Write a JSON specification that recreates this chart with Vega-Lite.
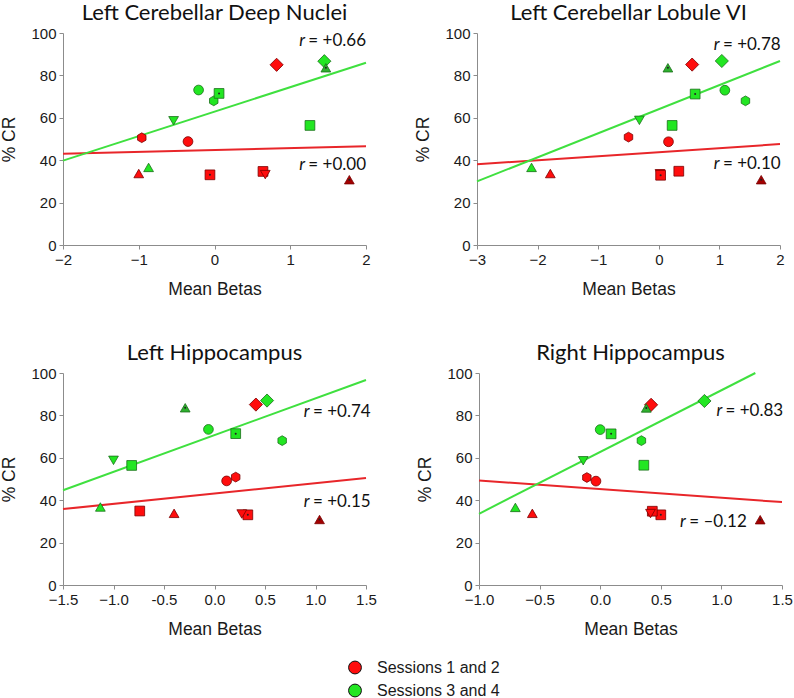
{
  "$schema": "https://vega.github.io/schema/vega-lite/v6.json",
  "background": "white",
  "padding": {"left": 0, "top": 2, "right": 0, "bottom": 0},
  "config": {
    "view": {"stroke": null},
    "axis": {"labelFont": "Liberation Sans", "labelFontSize": 15, "labelColor": "#1a1a1a", "titleFont": "Liberation Sans", "titleFontSize": 17.5, "titleFontWeight": "normal", "titleColor": "#1a1a1a", "domainColor": "#8c8c8c", "tickColor": "#8c8c8c", "tickSize": 4, "labelPadding": 3, "grid": false},
    "axisY": {"titlePadding": 12},
    "axisX": {"titlePadding": 13, "labelFlush": false},
    "title": {"font": "Lato", "fontSize": 22, "fontWeight": "normal", "color": "#111111", "frame": "group", "anchor": "middle", "offset": 1}
  },
  "datasets": {
    "pts": [
      {"panel": 1, "session": "Sessions 1 and 2", "subject": "A", "beta": -0.96, "cr": 50.6},
      {"panel": 1, "session": "Sessions 1 and 2", "subject": "B", "beta": -0.35, "cr": 48.8},
      {"panel": 1, "session": "Sessions 1 and 2", "subject": "C", "beta": -1.0, "cr": 33.7},
      {"panel": 1, "session": "Sessions 1 and 2", "subject": "D", "beta": -0.06, "cr": 33.1},
      {"panel": 1, "session": "Sessions 1 and 2", "subject": "E", "beta": 0.64, "cr": 34.7},
      {"panel": 1, "session": "Sessions 1 and 2", "subject": "F", "beta": 0.67, "cr": 33.2},
      {"panel": 1, "session": "Sessions 1 and 2", "subject": "G", "beta": 0.82, "cr": 85.0},
      {"panel": 1, "session": "Sessions 1 and 2", "subject": "H", "beta": 1.78, "cr": 30.8},
      {"panel": 1, "session": "Sessions 3 and 4", "subject": "A", "beta": -0.01, "cr": 68.0},
      {"panel": 1, "session": "Sessions 3 and 4", "subject": "B", "beta": -0.21, "cr": 73.1},
      {"panel": 1, "session": "Sessions 3 and 4", "subject": "C", "beta": -0.87, "cr": 36.6},
      {"panel": 1, "session": "Sessions 3 and 4", "subject": "D", "beta": 0.06, "cr": 71.5},
      {"panel": 1, "session": "Sessions 3 and 4", "subject": "E", "beta": 1.26, "cr": 56.4},
      {"panel": 1, "session": "Sessions 3 and 4", "subject": "F", "beta": -0.54, "cr": 58.6},
      {"panel": 1, "session": "Sessions 3 and 4", "subject": "G", "beta": 1.45, "cr": 86.7},
      {"panel": 1, "session": "Sessions 3 and 4", "subject": "H", "beta": 1.47, "cr": 83.6},
      {"panel": 2, "session": "Sessions 1 and 2", "subject": "A", "beta": -0.5, "cr": 50.9},
      {"panel": 2, "session": "Sessions 1 and 2", "subject": "B", "beta": 0.16, "cr": 48.7},
      {"panel": 2, "session": "Sessions 1 and 2", "subject": "C", "beta": -1.79, "cr": 33.7},
      {"panel": 2, "session": "Sessions 1 and 2", "subject": "F", "beta": 0.02, "cr": 33.6},
      {"panel": 2, "session": "Sessions 1 and 2", "subject": "D", "beta": 0.03, "cr": 32.9},
      {"panel": 2, "session": "Sessions 1 and 2", "subject": "E", "beta": 0.33, "cr": 34.8},
      {"panel": 2, "session": "Sessions 1 and 2", "subject": "G", "beta": 0.55, "cr": 85.1},
      {"panel": 2, "session": "Sessions 1 and 2", "subject": "H", "beta": 1.69, "cr": 30.8},
      {"panel": 2, "session": "Sessions 3 and 4", "subject": "A", "beta": 1.43, "cr": 68.0},
      {"panel": 2, "session": "Sessions 3 and 4", "subject": "B", "beta": 1.09, "cr": 73.0},
      {"panel": 2, "session": "Sessions 3 and 4", "subject": "C", "beta": -2.1, "cr": 36.6},
      {"panel": 2, "session": "Sessions 3 and 4", "subject": "D", "beta": 0.6, "cr": 71.2},
      {"panel": 2, "session": "Sessions 3 and 4", "subject": "E", "beta": 0.22, "cr": 56.4},
      {"panel": 2, "session": "Sessions 3 and 4", "subject": "F", "beta": -0.32, "cr": 58.8},
      {"panel": 2, "session": "Sessions 3 and 4", "subject": "G", "beta": 1.04, "cr": 86.8},
      {"panel": 2, "session": "Sessions 3 and 4", "subject": "H", "beta": 0.15, "cr": 83.6},
      {"panel": 3, "session": "Sessions 1 and 2", "subject": "A", "beta": 0.21, "cr": 50.9},
      {"panel": 3, "session": "Sessions 1 and 2", "subject": "B", "beta": 0.12, "cr": 49.1},
      {"panel": 3, "session": "Sessions 1 and 2", "subject": "C", "beta": -0.4, "cr": 33.8},
      {"panel": 3, "session": "Sessions 1 and 2", "subject": "D", "beta": 0.33, "cr": 33.1},
      {"panel": 3, "session": "Sessions 1 and 2", "subject": "E", "beta": -0.74, "cr": 34.9},
      {"panel": 3, "session": "Sessions 1 and 2", "subject": "F", "beta": 0.27, "cr": 33.5},
      {"panel": 3, "session": "Sessions 1 and 2", "subject": "G", "beta": 0.41, "cr": 85.1},
      {"panel": 3, "session": "Sessions 1 and 2", "subject": "H", "beta": 1.04, "cr": 30.9},
      {"panel": 3, "session": "Sessions 3 and 4", "subject": "A", "beta": 0.67, "cr": 68.1},
      {"panel": 3, "session": "Sessions 3 and 4", "subject": "B", "beta": -0.06, "cr": 73.4},
      {"panel": 3, "session": "Sessions 3 and 4", "subject": "C", "beta": -1.13, "cr": 36.8},
      {"panel": 3, "session": "Sessions 3 and 4", "subject": "D", "beta": 0.21, "cr": 71.4},
      {"panel": 3, "session": "Sessions 3 and 4", "subject": "E", "beta": -0.82, "cr": 56.4},
      {"panel": 3, "session": "Sessions 3 and 4", "subject": "F", "beta": -1.0, "cr": 58.8},
      {"panel": 3, "session": "Sessions 3 and 4", "subject": "G", "beta": 0.52, "cr": 87.0},
      {"panel": 3, "session": "Sessions 3 and 4", "subject": "H", "beta": -0.29, "cr": 83.6},
      {"panel": 4, "session": "Sessions 1 and 2", "subject": "A", "beta": -0.11, "cr": 50.7},
      {"panel": 4, "session": "Sessions 1 and 2", "subject": "B", "beta": -0.035, "cr": 49.0},
      {"panel": 4, "session": "Sessions 1 and 2", "subject": "C", "beta": -0.56, "cr": 33.8},
      {"panel": 4, "session": "Sessions 1 and 2", "subject": "D", "beta": 0.5, "cr": 33.1},
      {"panel": 4, "session": "Sessions 1 and 2", "subject": "E", "beta": 0.43, "cr": 34.8},
      {"panel": 4, "session": "Sessions 1 and 2", "subject": "F", "beta": 0.415, "cr": 33.7},
      {"panel": 4, "session": "Sessions 1 and 2", "subject": "G", "beta": 0.42, "cr": 85.0},
      {"panel": 4, "session": "Sessions 1 and 2", "subject": "H", "beta": 1.32, "cr": 30.8},
      {"panel": 4, "session": "Sessions 3 and 4", "subject": "A", "beta": 0.34, "cr": 68.1},
      {"panel": 4, "session": "Sessions 3 and 4", "subject": "B", "beta": 0.0, "cr": 73.3},
      {"panel": 4, "session": "Sessions 3 and 4", "subject": "C", "beta": -0.7, "cr": 36.6},
      {"panel": 4, "session": "Sessions 3 and 4", "subject": "D", "beta": 0.09, "cr": 71.3},
      {"panel": 4, "session": "Sessions 3 and 4", "subject": "E", "beta": 0.36, "cr": 56.5},
      {"panel": 4, "session": "Sessions 3 and 4", "subject": "F", "beta": -0.14, "cr": 58.6},
      {"panel": 4, "session": "Sessions 3 and 4", "subject": "G", "beta": 0.86, "cr": 86.8},
      {"panel": 4, "session": "Sessions 3 and 4", "subject": "H", "beta": 0.38, "cr": 83.5}
    ],
    "fits": [
      {"panel": 1, "session": "Sessions 1 and 2", "beta": -2, "cr": 43.0},
      {"panel": 1, "session": "Sessions 1 and 2", "beta": 2, "cr": 46.6},
      {"panel": 1, "session": "Sessions 3 and 4", "beta": -2, "cr": 39.8},
      {"panel": 1, "session": "Sessions 3 and 4", "beta": 2, "cr": 86.0},
      {"panel": 2, "session": "Sessions 1 and 2", "beta": -3, "cr": 38.1},
      {"panel": 2, "session": "Sessions 1 and 2", "beta": 2, "cr": 47.6},
      {"panel": 2, "session": "Sessions 3 and 4", "beta": -3, "cr": 30.0},
      {"panel": 2, "session": "Sessions 3 and 4", "beta": 2, "cr": 86.8},
      {"panel": 3, "session": "Sessions 1 and 2", "beta": -1.5, "cr": 35.8},
      {"panel": 3, "session": "Sessions 1 and 2", "beta": 1.5, "cr": 50.5},
      {"panel": 3, "session": "Sessions 3 and 4", "beta": -1.5, "cr": 44.7},
      {"panel": 3, "session": "Sessions 3 and 4", "beta": 1.5, "cr": 96.7},
      {"panel": 4, "session": "Sessions 1 and 2", "beta": -1, "cr": 49.3},
      {"panel": 4, "session": "Sessions 1 and 2", "beta": 1.5, "cr": 39.1},
      {"panel": 4, "session": "Sessions 3 and 4", "beta": -1, "cr": 33.6},
      {"panel": 4, "session": "Sessions 3 and 4", "beta": 1.28, "cr": 100}
    ],
    "rlabels": [
      {"panel": 1, "beta": 2.0, "cr": 96.4, "txt": "= +0.66"},
      {"panel": 1, "beta": 2.0, "cr": 37.8, "txt": "= +0.00"},
      {"panel": 2, "beta": 2.01, "cr": 94.2, "txt": "= +0.78"},
      {"panel": 2, "beta": 2.01, "cr": 38.0, "txt": "= +0.10"},
      {"panel": 3, "beta": 1.546, "cr": 81.5, "txt": "= +0.74"},
      {"panel": 3, "beta": 1.546, "cr": 39.2, "txt": "= +0.15"},
      {"panel": 4, "beta": 1.51, "cr": 82.3, "txt": "= +0.83"},
      {"panel": 4, "beta": 1.21, "cr": 29.5, "txt": "= –0.12"}
    ],
    "legendrows": [
      {"session": "Sessions 1 and 2"},
      {"session": "Sessions 3 and 4"}
    ]
  },
  "spacing": 18,
  "vconcat": [
    {
      "spacing": 44,
      "vconcat": [
        {
          "spacing": 43,
          "hconcat": [
            {
              "width": 303, "height": 212,
              "title": "Left Cerebellar Deep Nuclei",
              "encoding": {
                "x": {"field": "beta", "type": "quantitative", "scale": {"domain": [-2, 2], "nice": false, "zero": false}, "axis": {"values": [-2, -1, 0, 1, 2], "title": "Mean Betas"}},
                "y": {"field": "cr", "type": "quantitative", "scale": {"domain": [0, 100], "nice": false}, "axis": {"values": [0, 20, 40, 60, 80, 100], "title": "% CR"}}
              },
              "layer": [
                {"data": {"name": "fits"}, "transform": [{"filter": "datum.panel == 1"}], "mark": {"type": "line", "strokeWidth": 2}, "encoding": {"color": {"field": "session", "type": "nominal", "scale": {"domain": ["Sessions 1 and 2", "Sessions 3 and 4"], "range": ["#e8262a", "#3fe03f"]}, "legend": null}}},
                {"data": {"name": "pts"}, "transform": [{"filter": "datum.panel == 1"}], "mark": {"type": "point", "filled": true, "size": 95, "strokeWidth": 0.8, "opacity": 1},
                  "encoding": {
                    "shape": {"field": "subject", "type": "nominal", "scale": {"domain": ["A", "B", "C", "D", "E", "F", "G", "H"], "range": ["M0,-1L0.866,-0.5L0.866,0.5L0,1L-0.866,0.5L-0.866,-0.5Z", "circle", "triangle-up", "square", "square", "triangle-down", "M0,-1.35L1.35,0L0,1.35L-1.35,0Z", "triangle-up"]}, "legend": null},
                    "fill": {"field": "session", "type": "nominal", "scale": {"domain": ["Sessions 1 and 2", "Sessions 3 and 4"], "range": ["#ff0d0d", "#22e622"]}, "legend": null, "condition": [{"test": "datum.subject == 'H' && datum.session == 'Sessions 1 and 2'", "value": "#a30000"}, {"test": "datum.subject == 'H'", "value": "#2eb02e"}]},
                    "stroke": {"field": "session", "type": "nominal", "scale": {"domain": ["Sessions 1 and 2", "Sessions 3 and 4"], "range": ["#7a0000", "#1b6e1b"]}, "legend": null}
                  }},
                {"data": {"name": "pts"}, "transform": [{"filter": "datum.panel == 1 && (datum.subject == 'D' || datum.subject == 'H')"}], "mark": {"type": "point", "filled": true, "size": 4, "color": "#222222", "opacity": 1}},
                {"data": {"name": "rlabels"}, "transform": [{"filter": "datum.panel == 1"}], "mark": {"type": "text", "align": "right", "baseline": "middle", "font": "Lato", "fontSize": 17, "color": "#111111"}, "encoding": {"text": {"field": "txt"}}},
                {"data": {"name": "rlabels"}, "transform": [{"filter": "datum.panel == 1"}], "mark": {"type": "text", "align": "right", "baseline": "middle", "font": "Lato", "fontSize": 17, "fontStyle": "italic", "color": "#111111", "dx": -61}, "encoding": {"text": {"value": "r"}}}
              ]
            },
            {
              "width": 303, "height": 212,
              "title": "Left Cerebellar Lobule VI",
              "encoding": {
                "x": {"field": "beta", "type": "quantitative", "scale": {"domain": [-3, 2], "nice": false, "zero": false}, "axis": {"values": [-3, -2, -1, 0, 1, 2], "title": "Mean Betas"}},
                "y": {"field": "cr", "type": "quantitative", "scale": {"domain": [0, 100], "nice": false}, "axis": {"values": [0, 20, 40, 60, 80, 100], "title": "% CR"}}
              },
              "layer": [
                {"data": {"name": "fits"}, "transform": [{"filter": "datum.panel == 2"}], "mark": {"type": "line", "strokeWidth": 2}, "encoding": {"color": {"field": "session", "type": "nominal", "scale": {"domain": ["Sessions 1 and 2", "Sessions 3 and 4"], "range": ["#e8262a", "#3fe03f"]}, "legend": null}}},
                {"data": {"name": "pts"}, "transform": [{"filter": "datum.panel == 2"}], "mark": {"type": "point", "filled": true, "size": 95, "strokeWidth": 0.8, "opacity": 1},
                  "encoding": {
                    "shape": {"field": "subject", "type": "nominal", "scale": {"domain": ["A", "B", "C", "D", "E", "F", "G", "H"], "range": ["M0,-1L0.866,-0.5L0.866,0.5L0,1L-0.866,0.5L-0.866,-0.5Z", "circle", "triangle-up", "square", "square", "triangle-down", "M0,-1.35L1.35,0L0,1.35L-1.35,0Z", "triangle-up"]}, "legend": null},
                    "fill": {"field": "session", "type": "nominal", "scale": {"domain": ["Sessions 1 and 2", "Sessions 3 and 4"], "range": ["#ff0d0d", "#22e622"]}, "legend": null, "condition": [{"test": "datum.subject == 'H' && datum.session == 'Sessions 1 and 2'", "value": "#a30000"}, {"test": "datum.subject == 'H'", "value": "#2eb02e"}]},
                    "stroke": {"field": "session", "type": "nominal", "scale": {"domain": ["Sessions 1 and 2", "Sessions 3 and 4"], "range": ["#7a0000", "#1b6e1b"]}, "legend": null}
                  }},
                {"data": {"name": "pts"}, "transform": [{"filter": "datum.panel == 2 && (datum.subject == 'D' || datum.subject == 'H')"}], "mark": {"type": "point", "filled": true, "size": 4, "color": "#222222", "opacity": 1}},
                {"data": {"name": "rlabels"}, "transform": [{"filter": "datum.panel == 2"}], "mark": {"type": "text", "align": "right", "baseline": "middle", "font": "Lato", "fontSize": 17, "color": "#111111"}, "encoding": {"text": {"field": "txt"}}},
                {"data": {"name": "rlabels"}, "transform": [{"filter": "datum.panel == 2"}], "mark": {"type": "text", "align": "right", "baseline": "middle", "font": "Lato", "fontSize": 17, "fontStyle": "italic", "color": "#111111", "dx": -61}, "encoding": {"text": {"value": "r"}}}
              ]
            }
          ]
        },
        {
          "spacing": 39,
          "hconcat": [
            {
              "width": 303, "height": 212,
              "title": "Left Hippocampus",
              "encoding": {
                "x": {"field": "beta", "type": "quantitative", "scale": {"domain": [-1.5, 1.5], "nice": false, "zero": false}, "axis": {"values": [-1.5, -1, -0.5, 0, 0.5, 1, 1.5], "format": ".1f", "labelExpr": "datum.value == -0.5 ? '-0.5' : datum.label", "title": "Mean Betas"}},
                "y": {"field": "cr", "type": "quantitative", "scale": {"domain": [0, 100], "nice": false}, "axis": {"values": [0, 20, 40, 60, 80, 100], "title": "% CR"}}
              },
              "layer": [
                {"data": {"name": "fits"}, "transform": [{"filter": "datum.panel == 3"}], "mark": {"type": "line", "strokeWidth": 2}, "encoding": {"color": {"field": "session", "type": "nominal", "scale": {"domain": ["Sessions 1 and 2", "Sessions 3 and 4"], "range": ["#e8262a", "#3fe03f"]}, "legend": null}}},
                {"data": {"name": "pts"}, "transform": [{"filter": "datum.panel == 3"}], "mark": {"type": "point", "filled": true, "size": 95, "strokeWidth": 0.8, "opacity": 1},
                  "encoding": {
                    "shape": {"field": "subject", "type": "nominal", "scale": {"domain": ["A", "B", "C", "D", "E", "F", "G", "H"], "range": ["M0,-1L0.866,-0.5L0.866,0.5L0,1L-0.866,0.5L-0.866,-0.5Z", "circle", "triangle-up", "square", "square", "triangle-down", "M0,-1.35L1.35,0L0,1.35L-1.35,0Z", "triangle-up"]}, "legend": null},
                    "fill": {"field": "session", "type": "nominal", "scale": {"domain": ["Sessions 1 and 2", "Sessions 3 and 4"], "range": ["#ff0d0d", "#22e622"]}, "legend": null, "condition": [{"test": "datum.subject == 'H' && datum.session == 'Sessions 1 and 2'", "value": "#a30000"}, {"test": "datum.subject == 'H'", "value": "#2eb02e"}]},
                    "stroke": {"field": "session", "type": "nominal", "scale": {"domain": ["Sessions 1 and 2", "Sessions 3 and 4"], "range": ["#7a0000", "#1b6e1b"]}, "legend": null}
                  }},
                {"data": {"name": "pts"}, "transform": [{"filter": "datum.panel == 3 && (datum.subject == 'D' || datum.subject == 'H')"}], "mark": {"type": "point", "filled": true, "size": 4, "color": "#222222", "opacity": 1}},
                {"data": {"name": "rlabels"}, "transform": [{"filter": "datum.panel == 3"}], "mark": {"type": "text", "align": "right", "baseline": "middle", "font": "Lato", "fontSize": 17, "color": "#111111"}, "encoding": {"text": {"field": "txt"}}},
                {"data": {"name": "rlabels"}, "transform": [{"filter": "datum.panel == 3"}], "mark": {"type": "text", "align": "right", "baseline": "middle", "font": "Lato", "fontSize": 17, "fontStyle": "italic", "color": "#111111", "dx": -61}, "encoding": {"text": {"value": "r"}}}
              ]
            },
            {
              "width": 303, "height": 212,
              "title": "Right Hippocampus",
              "encoding": {
                "x": {"field": "beta", "type": "quantitative", "scale": {"domain": [-1, 1.5], "nice": false, "zero": false}, "axis": {"values": [-1, -0.5, 0, 0.5, 1, 1.5], "format": ".1f", "title": "Mean Betas"}},
                "y": {"field": "cr", "type": "quantitative", "scale": {"domain": [0, 100], "nice": false}, "axis": {"values": [0, 20, 40, 60, 80, 100], "title": "% CR"}}
              },
              "layer": [
                {"data": {"name": "fits"}, "transform": [{"filter": "datum.panel == 4"}], "mark": {"type": "line", "strokeWidth": 2}, "encoding": {"color": {"field": "session", "type": "nominal", "scale": {"domain": ["Sessions 1 and 2", "Sessions 3 and 4"], "range": ["#e8262a", "#3fe03f"]}, "legend": null}}},
                {"data": {"name": "pts"}, "transform": [{"filter": "datum.panel == 4"}], "mark": {"type": "point", "filled": true, "size": 95, "strokeWidth": 0.8, "opacity": 1},
                  "encoding": {
                    "shape": {"field": "subject", "type": "nominal", "scale": {"domain": ["A", "B", "C", "D", "E", "F", "G", "H"], "range": ["M0,-1L0.866,-0.5L0.866,0.5L0,1L-0.866,0.5L-0.866,-0.5Z", "circle", "triangle-up", "square", "square", "triangle-down", "M0,-1.35L1.35,0L0,1.35L-1.35,0Z", "triangle-up"]}, "legend": null},
                    "fill": {"field": "session", "type": "nominal", "scale": {"domain": ["Sessions 1 and 2", "Sessions 3 and 4"], "range": ["#ff0d0d", "#22e622"]}, "legend": null, "condition": [{"test": "datum.subject == 'H' && datum.session == 'Sessions 1 and 2'", "value": "#a30000"}, {"test": "datum.subject == 'H'", "value": "#2eb02e"}]},
                    "stroke": {"field": "session", "type": "nominal", "scale": {"domain": ["Sessions 1 and 2", "Sessions 3 and 4"], "range": ["#7a0000", "#1b6e1b"]}, "legend": null}
                  }},
                {"data": {"name": "pts"}, "transform": [{"filter": "datum.panel == 4 && (datum.subject == 'D' || datum.subject == 'H')"}], "mark": {"type": "point", "filled": true, "size": 4, "color": "#222222", "opacity": 1}},
                {"data": {"name": "rlabels"}, "transform": [{"filter": "datum.panel == 4"}], "mark": {"type": "text", "align": "right", "baseline": "middle", "font": "Lato", "fontSize": 17, "color": "#111111"}, "encoding": {"text": {"field": "txt"}}},
                {"data": {"name": "rlabels"}, "transform": [{"filter": "datum.panel == 4"}], "mark": {"type": "text", "align": "right", "baseline": "middle", "font": "Lato", "fontSize": 17, "fontStyle": "italic", "color": "#111111", "dx": -61}, "encoding": {"text": {"value": "r"}}}
              ]
            }
          ]
        }
      ]
    },
    {
      "width": 584, "height": 46,
      "data": {"name": "legendrows"},
      "encoding": {
        "y": {"field": "session", "type": "nominal", "axis": null, "scale": {"domain": ["Sessions 1 and 2", "Sessions 3 and 4"]}}
      },
      "layer": [
        {"mark": {"type": "point", "filled": true, "size": 165, "shape": "circle", "stroke": "#111111", "strokeWidth": 1, "opacity": 1},
          "encoding": {"fill": {"field": "session", "type": "nominal", "scale": {"domain": ["Sessions 1 and 2", "Sessions 3 and 4"], "range": ["#ff0d0d", "#22e622"]}, "legend": null}}},
        {"mark": {"type": "text", "align": "left", "baseline": "middle", "dx": 22, "font": "Liberation Sans", "fontSize": 16, "color": "#1a1a1a"},
          "encoding": {"text": {"field": "session"}}}
      ]
    }
  ]
}
